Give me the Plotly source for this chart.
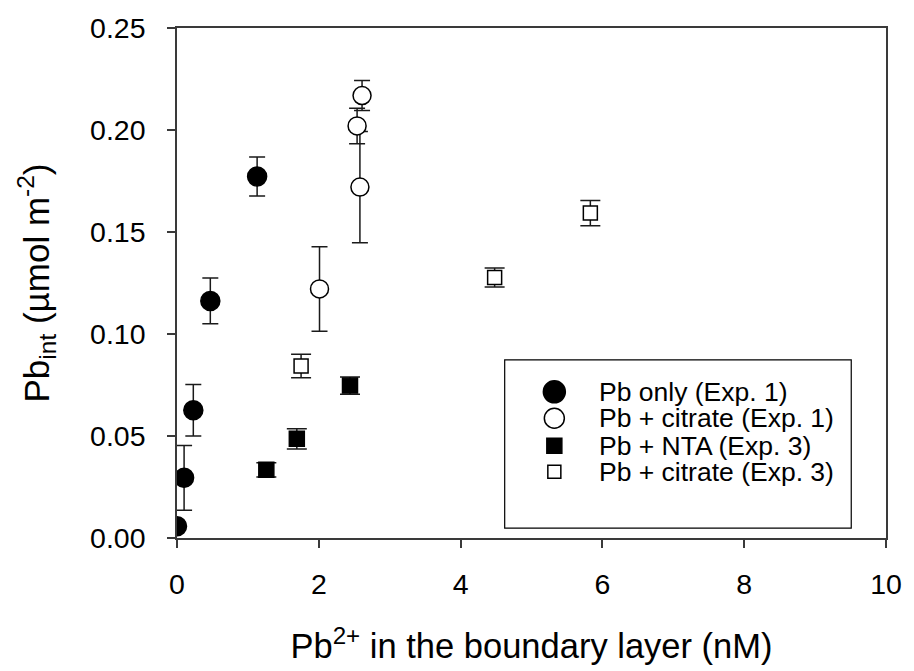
import plotly.graph_objects as go

# ---- data ----
pb_only_x = [0.0, 0.10, 0.23, 0.47, 1.13]
pb_only_y = [0.0058, 0.0295, 0.0626, 0.1162, 0.1772]
pb_only_err = [0.0, 0.0159, 0.0126, 0.0112, 0.0096]

cit1_x = [2.01, 2.54, 2.58, 2.61]
cit1_y = [0.1221, 0.2020, 0.1720, 0.2169]
cit1_err = [0.0207, 0.0087, 0.0273, 0.0074]

nta3_x = [1.26, 1.69, 2.44]
nta3_y = [0.0334, 0.0486, 0.0747]
nta3_err = [0.0035, 0.0050, 0.0042]

cit3_x = [1.75, 4.48, 5.83]
cit3_y = [0.0843, 0.1277, 0.1593]
cit3_err = [0.0058, 0.0047, 0.0062]

legend_labels = ["Pb only (Exp. 1)", "Pb + citrate (Exp. 1)",
                 "Pb + NTA (Exp. 3)", "Pb + citrate (Exp. 3)"]

x_ticks = [0, 2, 4, 6, 8, 10]
y_ticks = [0.00, 0.05, 0.10, 0.15, 0.20, 0.25]

FONT = "Liberation Sans, Arial, sans-serif"
LINE = "#3a3a3a"

fig = go.Figure()

def add(x, y, err, symbol, fill, size, capw, name):
    fig.add_trace(go.Scatter(
        x=x, y=y, mode="markers", name=name, showlegend=False,
        marker=dict(symbol=symbol, size=size, color=fill,
                    line=dict(color="black", width=1.5)),
        error_y=dict(type="data", array=err, visible=True,
                     color="#1a1a1a", thickness=1.5, width=capw),
    ))

add(pb_only_x, pb_only_y, pb_only_err, "circle", "black", 19, 8, legend_labels[0])
add(cit1_x, cit1_y, cit1_err, "circle", "white", 18, 8, legend_labels[1])
add(nta3_x, nta3_y, nta3_err, "square", "black", 15, 10, legend_labels[2])
add(cit3_x, cit3_y, cit3_err, "square", "white", 14, 10, legend_labels[3])

# ---- manual legend (box, keys, labels) ----
L, T, W, H = 177, 25, 714, 514
def px(x): return (x - L) / W
def py(y): return (T + H - y) / H

shapes = [dict(type="rect", xref="paper", yref="paper",
               x0=px(507), x1=px(856), y0=py(529), y1=py(359.5),
               line=dict(color="black", width=1.2), fillcolor="white", layer="above")]
entry_y = [391.7, 418.3, 446.0, 472.3]
key_x = px(557)
keys = [("circle", "black", 11), ("circle", "white", 10),
        ("rect", "black", 7.5), ("rect", "white", 6.5)]
for (kind, fill, r), ey in zip(keys, entry_y):
    shapes.append(dict(type=kind, xref="paper", yref="paper",
                       xsizemode="pixel", ysizemode="pixel",
                       xanchor=key_x, yanchor=py(ey),
                       x0=-r, x1=r, y0=-r, y1=r,
                       fillcolor=fill, line=dict(color="black", width=1.5),
                       layer="above"))
annotations = []
for lab, ey in zip(legend_labels, entry_y):
    annotations.append(dict(xref="paper", yref="paper", x=px(600), y=py(ey),
                            xanchor="left", yanchor="middle", showarrow=False,
                            text=lab, font=dict(family=FONT, size=26.5, color="black")))

fig.update_layout(
    width=914, height=671,
    margin=dict(l=177, r=23, t=25, b=132),
    paper_bgcolor="white", plot_bgcolor="white",
    font=dict(family=FONT, color="black"),
    shapes=shapes, annotations=annotations,
    xaxis=dict(range=[0, 10], tickvals=x_ticks, ticktext=[str(v) for v in x_ticks],
               showgrid=False, zeroline=False, showline=True, linecolor=LINE,
               linewidth=1.5, mirror=True, ticks="outside", ticklen=8,
               tickwidth=1.5, tickcolor=LINE, tickfont=dict(size=28.5, color="black"),
               ticklabelstandoff=12,
               title=dict(text="Pb<sup>2+</sup> in the boundary layer (nM)",
                          font=dict(size=34.5, color="black"), standoff=35)),
    yaxis=dict(range=[0, 0.25], tickvals=y_ticks, ticktext=[f"{v:.2f}" for v in y_ticks],
               showgrid=False, zeroline=False, showline=True, linecolor=LINE,
               linewidth=1.5, mirror=True, ticks="outside", ticklen=8,
               tickwidth=1.5, tickcolor=LINE, tickfont=dict(size=28.5, color="black"),
               ticklabelstandoff=16,
               title=dict(text="Pb<sub>int</sub> (µmol m<sup>-2</sup>)",
                          font=dict(size=35, color="black"), standoff=30)),
)

fig.write_html("out.html")
